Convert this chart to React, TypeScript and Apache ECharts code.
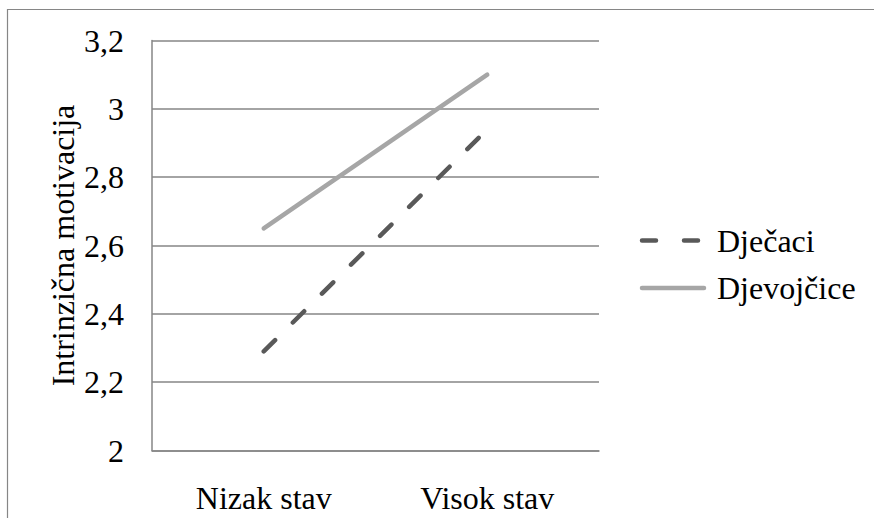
import React, { useEffect, useRef } from "react";
import * as echarts from "echarts";

const categories = ["Nizak stav", "Visok stav"];
const seriesNames = ["Dječaci", "Djevojčice"];
const boysValues = [2.29, 2.94];
const girlsValues = [2.65, 3.1];
const yTicks = [2, 2.2, 2.4, 2.6, 2.8, 3, 3.2];
const yTickLabels = ["2", "2,2", "2,4", "2,6", "2,8", "3", "3,2"];
const yTitle = "Intrinzična motivacija";

const FONT = "Liberation Serif";
const FONT32 = "32px 'Liberation Serif'";
const GRID = "#868686";
const BOYS = "#595959";
const GIRLS = "#A6A6A6";
const GRID_LEFT = 152;

function baseOption(): any {
  return {
    animation: false,
    backgroundColor: "#ffffff",
    textStyle: { fontFamily: "serif" },
    grid: { left: GRID_LEFT, right: 275, top: 40.5, bottom: 67.5 },
    xAxis: {
      type: "category",
      data: categories,
      boundaryGap: true,
      axisLine: { show: true, lineStyle: { color: GRID, width: 1.5 } },
      axisTick: { show: false },
      axisLabel: { show: false },
    },
    yAxis: {
      type: "value",
      min: yTicks[0],
      max: yTicks[yTicks.length - 1],
      interval: 0.2,
      name: yTitle,
      nameLocation: "middle",
      nameGap: 73,
      nameTextStyle: { fontFamily: FONT, fontSize: 32, color: "#000" },
      axisLine: { show: true, lineStyle: { color: GRID, width: 1.5 } },
      axisTick: { show: false },
      splitLine: { show: true, lineStyle: { color: GRID, width: 1.5 } },
      axisLabel: { show: false },
    },
    series: [
      {
        name: seriesNames[0],
        type: "line",
        data: boysValues,
        symbol: "none",
        color: BOYS,
        lineStyle: { color: BOYS, width: 4.5, type: [16, 25], cap: "round" },
      },
      {
        name: seriesNames[1],
        type: "line",
        data: girlsValues,
        symbol: "none",
        color: GIRLS,
        lineStyle: { color: GIRLS, width: 4.5, cap: "round" },
      },
    ],
  };
}

export default function App() {
  const ref = useRef<HTMLDivElement>(null);
  useEffect(() => {
    document.body.style.margin = "0";

    // measure positions through the library's scales with a temporary instance
    const probe = echarts.init(ref.current!, undefined, { renderer: "svg" });
    probe.setOption(baseOption());
    const yPos = yTicks.map((v) => probe.convertToPixel({ yAxisIndex: 0 }, v) as number);
    const xPos = categories.map((c) => probe.convertToPixel({ xAxisIndex: 0 }, c) as number);
    const bottom = probe.convertToPixel({ yAxisIndex: 0 }, yTicks[0]) as number;
    probe.dispose();

    const txt = (text: string, x: number, y: number, align: string) => ({
      type: "text",
      x,
      y,
      style: { text, font: FONT32, fill: "#000", align, verticalAlign: "middle" },
    });

    const graphics: any[] = [
      {
        type: "rect",
        shape: { x: 7.5, y: 9.5, width: 950, height: 600 },
        style: { fill: "none", stroke: GRID, lineWidth: 1.2 },
        silent: true,
      },
    ];
    yTicks.forEach((_, i) => graphics.push(txt(yTickLabels[i], GRID_LEFT - 28, yPos[i], "right")));
    categories.forEach((c, i) => graphics.push(txt(c, xPos[i], bottom + 47, "center")));

    const legendRows = [
      { name: seriesNames[0], color: BOYS, dash: [14, 28] },
      { name: seriesNames[1], color: GIRLS, dash: null },
    ];
    legendRows.forEach((r, i) => {
      const y = 240.5 + i * 47.5;
      graphics.push({
        type: "line",
        shape: { x1: 642, y1: y, x2: 704, y2: y },
        style: { stroke: r.color, lineWidth: 4.5, lineCap: "round", lineDash: r.dash || undefined },
      });
      graphics.push(txt(r.name, 717, y, "left"));
    });

    const chart = echarts.init(ref.current!, undefined, { renderer: "svg" });
    const opt = baseOption();
    opt.graphic = graphics;
    chart.setOption(opt);
    return () => chart.dispose();
  }, []);
  return (
    <div
      ref={ref}
      style={{ position: "fixed", left: 0, top: 0, width: 874, height: 518 }}
    />
  );
}
